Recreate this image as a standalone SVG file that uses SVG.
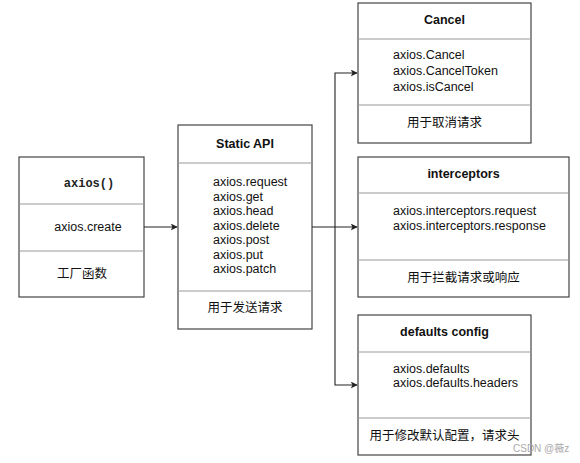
<svg xmlns="http://www.w3.org/2000/svg" width="580" height="463" viewBox="0 0 580 463">
<style>
.box{fill:#fff;stroke:#444;stroke-width:1.2}
.div{stroke:#999;stroke-width:1}
.t{font-family:"Liberation Sans","Noto Sans CJK SC",sans-serif;font-size:12.5px;fill:#111}
.b{font-weight:bold}
.c{text-anchor:middle}
.m{font-family:"Liberation Mono",monospace;font-size:12px;font-weight:bold;fill:#222}
.con{fill:none;stroke:#222;stroke-width:1.1}
</style>
<defs>
<marker id="ah" viewBox="0 0 10 10" refX="9" refY="5" markerWidth="7" markerHeight="7" orient="auto" markerUnits="userSpaceOnUse">
<path d="M0,0 L10,5 L0,10 L2.5,5 z" fill="#222"/>
</marker>
</defs>
<rect width="580" height="463" fill="#fff"/>
<g id="axios">
<rect class="box" x="19" y="157" width="125" height="140"/>
<line class="div" x1="19" y1="204" x2="144" y2="204"/>
<line class="div" x1="19" y1="251" x2="144" y2="251"/>
<text class="m c" x="89" y="187">axios()</text>
<text class="t c" x="88" y="231">axios.create</text>
<text class="t c" x="82" y="278">工厂函数</text>
</g>
<g id="static-api">
<rect class="box" x="178" y="125" width="134" height="204"/>
<line class="div" x1="178" y1="163" x2="312" y2="163"/>
<line class="div" x1="178" y1="291" x2="312" y2="291"/>
<text class="t b c" x="245" y="148">Static API</text>
<text class="t" x="213" y="186">axios.request</text>
<text class="t" x="213" y="200.5">axios.get</text>
<text class="t" x="213" y="215">axios.head</text>
<text class="t" x="213" y="229.5">axios.delete</text>
<text class="t" x="213" y="244">axios.post</text>
<text class="t" x="213" y="258.5">axios.put</text>
<text class="t" x="213" y="273">axios.patch</text>
<text class="t c" x="245" y="312">用于发送请求</text>
</g>
<g id="cancel">
<rect class="box" x="358" y="3" width="173" height="140"/>
<line class="div" x1="358" y1="39" x2="531" y2="39"/>
<line class="div" x1="358" y1="105" x2="531" y2="105"/>
<text class="t b c" x="444.5" y="24">Cancel</text>
<text class="t" x="393" y="59">axios.Cancel</text>
<text class="t" x="393" y="75">axios.CancelToken</text>
<text class="t" x="393" y="91">axios.isCancel</text>
<text class="t c" x="444.5" y="127">用于取消请求</text>
</g>
<g id="interceptors">
<rect class="box" x="358" y="157" width="211" height="140"/>
<line class="div" x1="358" y1="193" x2="569" y2="193"/>
<line class="div" x1="358" y1="260" x2="569" y2="260"/>
<text class="t b c" x="463.5" y="178">interceptors</text>
<text class="t" x="393" y="215">axios.interceptors.request</text>
<text class="t" x="393" y="230">axios.interceptors.response</text>
<text class="t c" x="463.5" y="282">用于拦截请求或响应</text>
</g>
<g id="defaults-config">
<rect class="box" x="358" y="315" width="173" height="140"/>
<line class="div" x1="358" y1="352" x2="531" y2="352"/>
<line class="div" x1="358" y1="418" x2="531" y2="418"/>
<text class="t b c" x="444.5" y="336">defaults config</text>
<text class="t" x="393" y="373">axios.defaults</text>
<text class="t" x="393" y="387">axios.defaults.headers</text>
<text class="t c" x="444.5" y="440">用于修改默认配置，请求头</text>
</g>
<g id="connectors">
<line class="con" x1="144" y1="227" x2="177" y2="227" marker-end="url(#ah)"/>
<line class="con" x1="312" y1="227" x2="357" y2="227" marker-end="url(#ah)"/>
<polyline class="con" points="335,227 335,73 357,73" marker-end="url(#ah)"/>
<polyline class="con" points="335,227 335,385 357,385" marker-end="url(#ah)"/>
</g>
<text x="513" y="452" style="font-family:'Liberation Sans','Noto Sans CJK SC',sans-serif;font-size:10px;fill:#aaa">CSDN @薇z</text>
</svg>
